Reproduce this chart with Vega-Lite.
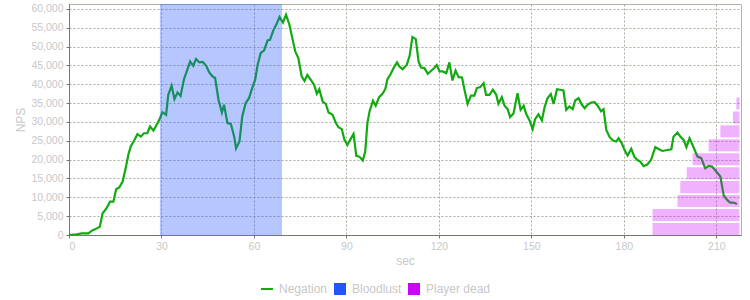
{
  "$schema": "https://vega.github.io/schema/vega-lite/v6.json",
  "width": 672,
  "height": 231,
  "autosize": {"type": "none"},
  "padding": {"left": 69, "top": 4, "right": 9, "bottom": 65},
  "config": {
    "font": "Liberation Sans",
    "view": {"stroke": "#b4b4a4", "strokeWidth": 1},
    "axis": {
      "domainColor": "#77776a",
      "tickColor": "#77776a",
      "tickSize": 3,
      "gridColor": "#ababa0",
      "gridDash": [2, 2],
      "gridOpacity": 1,
      "labelColor": "#c8c8c8",
      "labelFontSize": 10.5,
      "labelFont": "Liberation Sans",
      "titleColor": "#c8c8c8",
      "titleFontSize": 12,
      "titleFontWeight": "normal",
      "titleFont": "Liberation Sans"
    },
    "legend": {
      "labelColor": "#c8c8c8",
      "labelFontSize": 12,
      "labelFont": "Liberation Sans"
    }
  },
  "datasets": {
    "neg": [
      {"t": 0, "v": 0}, {"t": 2.5, "v": 200}, {"t": 4.1, "v": 450}, {"t": 6.3, "v": 450},
      {"t": 7.4, "v": 1150}, {"t": 8.4, "v": 1500}, {"t": 10.0, "v": 2200}, {"t": 10.9, "v": 5750},
      {"t": 12.2, "v": 7100}, {"t": 13.3, "v": 8850}, {"t": 14.4, "v": 8850}, {"t": 15.3, "v": 12150},
      {"t": 16.3, "v": 12600}, {"t": 17.4, "v": 14200}, {"t": 18.5, "v": 18150}, {"t": 19.3, "v": 21500},
      {"t": 20.1, "v": 23650}, {"t": 21.1, "v": 25000}, {"t": 22.2, "v": 26750}, {"t": 23.3, "v": 26100},
      {"t": 24.3, "v": 27000}, {"t": 25.4, "v": 27000}, {"t": 26.3, "v": 28800}, {"t": 27.4, "v": 27700},
      {"t": 28.4, "v": 29200}, {"t": 29.3, "v": 30550}, {"t": 30.3, "v": 32600}, {"t": 31.5, "v": 31900},
      {"t": 32.2, "v": 37200}, {"t": 33.3, "v": 39600}, {"t": 34.2, "v": 36050}, {"t": 35.2, "v": 37800},
      {"t": 36.2, "v": 36900}, {"t": 37.3, "v": 41350}, {"t": 38.2, "v": 43400}, {"t": 39.3, "v": 46050},
      {"t": 40.3, "v": 44900}, {"t": 41.2, "v": 46700}, {"t": 42.3, "v": 45800}, {"t": 43.4, "v": 45950},
      {"t": 44.5, "v": 44900}, {"t": 45.5, "v": 43150}, {"t": 46.6, "v": 42050}, {"t": 47.4, "v": 41650},
      {"t": 48.5, "v": 35900}, {"t": 49.6, "v": 32500}, {"t": 50.3, "v": 34550}, {"t": 51.4, "v": 29700},
      {"t": 52.5, "v": 29500}, {"t": 53.6, "v": 26100}, {"t": 54.2, "v": 23000}, {"t": 55.3, "v": 24800},
      {"t": 56.2, "v": 31450}, {"t": 57.3, "v": 35000}, {"t": 58.4, "v": 36300}, {"t": 59.3, "v": 38700},
      {"t": 60.4, "v": 41200}, {"t": 61.2, "v": 45200}, {"t": 62.2, "v": 48300}, {"t": 63.3, "v": 49000},
      {"t": 64.4, "v": 51650}, {"t": 65.2, "v": 51800}, {"t": 66.3, "v": 54300}, {"t": 67.4, "v": 56100},
      {"t": 68.3, "v": 57850}, {"t": 69.4, "v": 56400}, {"t": 70.4, "v": 58450}, {"t": 71.5, "v": 55800},
      {"t": 72.6, "v": 51650}, {"t": 73.4, "v": 48700}, {"t": 74.4, "v": 46950}, {"t": 75.5, "v": 42050},
      {"t": 76.4, "v": 40900}, {"t": 77.3, "v": 42500}, {"t": 78.4, "v": 41200}, {"t": 79.5, "v": 39850},
      {"t": 80.4, "v": 37500}, {"t": 81.2, "v": 38700}, {"t": 82.3, "v": 35400}, {"t": 83.3, "v": 34800},
      {"t": 84.2, "v": 32500}, {"t": 85.5, "v": 31900}, {"t": 86.6, "v": 29700}, {"t": 87.4, "v": 28600},
      {"t": 88.5, "v": 28100}, {"t": 89.3, "v": 25400}, {"t": 90.3, "v": 23900}, {"t": 91.2, "v": 25250},
      {"t": 92.3, "v": 26850}, {"t": 93.2, "v": 21000}, {"t": 94.2, "v": 20800}, {"t": 95.3, "v": 19750},
      {"t": 96.1, "v": 22150}, {"t": 96.8, "v": 29700}, {"t": 97.5, "v": 32800}, {"t": 98.6, "v": 35600},
      {"t": 99.5, "v": 34300}, {"t": 100.6, "v": 36600}, {"t": 101.7, "v": 37450}, {"t": 102.6, "v": 38700},
      {"t": 103.3, "v": 41350}, {"t": 104.4, "v": 42800}, {"t": 105.3, "v": 44300}, {"t": 106.4, "v": 45800},
      {"t": 107.2, "v": 44700}, {"t": 108.2, "v": 44000}, {"t": 109.6, "v": 45200}, {"t": 110.5, "v": 47550},
      {"t": 111.4, "v": 52550}, {"t": 112.5, "v": 52000}, {"t": 113.4, "v": 46050}, {"t": 114.2, "v": 44450},
      {"t": 115.3, "v": 44300}, {"t": 116.4, "v": 42800}, {"t": 117.5, "v": 43600}, {"t": 118.5, "v": 44300},
      {"t": 119.3, "v": 45100}, {"t": 120.2, "v": 43400}, {"t": 121.3, "v": 43400}, {"t": 122.4, "v": 42950},
      {"t": 123.4, "v": 45800}, {"t": 124.4, "v": 41000}, {"t": 125.4, "v": 43650}, {"t": 126.4, "v": 41900},
      {"t": 127.5, "v": 41800}, {"t": 128.3, "v": 38550}, {"t": 129.3, "v": 34800}, {"t": 130.4, "v": 37000},
      {"t": 131.5, "v": 37000}, {"t": 132.3, "v": 39000}, {"t": 133.4, "v": 39250}, {"t": 134.5, "v": 40300},
      {"t": 135.3, "v": 37200}, {"t": 136.4, "v": 37200}, {"t": 137.5, "v": 38550}, {"t": 138.6, "v": 37200},
      {"t": 139.3, "v": 34800}, {"t": 140.4, "v": 36600}, {"t": 141.3, "v": 34300}, {"t": 142.3, "v": 33400},
      {"t": 143.1, "v": 31300}, {"t": 144.2, "v": 32250}, {"t": 145.5, "v": 37650}, {"t": 146.5, "v": 33200},
      {"t": 147.5, "v": 34300}, {"t": 148.3, "v": 32150}, {"t": 149.4, "v": 30400}, {"t": 150.4, "v": 28100},
      {"t": 151.2, "v": 30750}, {"t": 152.3, "v": 32050}, {"t": 153.4, "v": 30400}, {"t": 154.3, "v": 33950},
      {"t": 155.2, "v": 36300}, {"t": 156.3, "v": 37400}, {"t": 157.2, "v": 34750}, {"t": 158.3, "v": 38700},
      {"t": 159.4, "v": 38550}, {"t": 160.4, "v": 38350}, {"t": 161.3, "v": 33200}, {"t": 162.3, "v": 34100},
      {"t": 163.4, "v": 33400}, {"t": 164.2, "v": 35700}, {"t": 165.3, "v": 36300}, {"t": 166.4, "v": 34550},
      {"t": 167.3, "v": 33650}, {"t": 168.2, "v": 34550}, {"t": 169.4, "v": 35150}, {"t": 170.5, "v": 35250},
      {"t": 171.5, "v": 34300}, {"t": 172.6, "v": 32800}, {"t": 173.4, "v": 33400}, {"t": 174.3, "v": 27900},
      {"t": 175.4, "v": 25950}, {"t": 176.5, "v": 25050}, {"t": 177.5, "v": 24800}, {"t": 178.3, "v": 25700},
      {"t": 179.4, "v": 24200}, {"t": 180.2, "v": 22600}, {"t": 181.2, "v": 21100}, {"t": 182.4, "v": 22850},
      {"t": 183.4, "v": 20800}, {"t": 184.3, "v": 19950}, {"t": 185.3, "v": 19500}, {"t": 186.4, "v": 18250},
      {"t": 187.6, "v": 18700}, {"t": 188.8, "v": 19900}, {"t": 190.2, "v": 23300}, {"t": 191.4, "v": 22750},
      {"t": 192.5, "v": 22300}, {"t": 193.7, "v": 22500}, {"t": 195.4, "v": 22750}, {"t": 196.1, "v": 26100},
      {"t": 197.4, "v": 27200}, {"t": 198.3, "v": 26100}, {"t": 199.4, "v": 25250}, {"t": 200.3, "v": 23300},
      {"t": 201.3, "v": 25700}, {"t": 202.6, "v": 23300}, {"t": 203.9, "v": 20800}, {"t": 205.1, "v": 20400},
      {"t": 206.4, "v": 17700}, {"t": 207.5, "v": 18350}, {"t": 208.6, "v": 18150}, {"t": 209.7, "v": 17100},
      {"t": 211.3, "v": 15500}, {"t": 212.4, "v": 10450}, {"t": 213.5, "v": 9300}, {"t": 214.5, "v": 8600},
      {"t": 215.6, "v": 8600}, {"t": 216.7, "v": 8250}
    ],
    "bl": [{"start": 29.5, "end": 69.1}],
    "dead": [
      {"start": 189.3, "end": 217.5, "lo": 0, "hi": 3200},
      {"start": 189.3, "end": 217.5, "lo": 3700, "hi": 6900},
      {"start": 197.4, "end": 217.5, "lo": 7400, "hi": 10600},
      {"start": 198.3, "end": 217.5, "lo": 11100, "hi": 14300},
      {"start": 200.4, "end": 217.5, "lo": 14800, "hi": 18000},
      {"start": 202.3, "end": 217.5, "lo": 18500, "hi": 21700},
      {"start": 207.5, "end": 217.5, "lo": 22200, "hi": 25400},
      {"start": 211.3, "end": 217.5, "lo": 25900, "hi": 29100},
      {"start": 215.4, "end": 217.5, "lo": 29600, "hi": 32800},
      {"start": 216.5, "end": 217.5, "lo": 33300, "hi": 36500}
    ]
  },
  "layer": [
    {
      "data": {"name": "neg"},
      "mark": {"type": "line", "strokeWidth": 2.2},
      "encoding": {
        "x": {
          "field": "t", "type": "quantitative",
          "scale": {"domain": [0, 218], "nice": false, "zero": false},
          "axis": {"title": "sec", "values": [0, 30, 60, 90, 120, 150, 180, 210], "labelPadding": 3, "titlePadding": 4}
        },
        "y": {
          "field": "v", "type": "quantitative",
          "scale": {"domain": [0, 61300], "nice": false},
          "axis": {"title": "NPS", "values": [0, 5000, 10000, 15000, 20000, 25000, 30000, 35000, 40000, 45000, 50000, 55000, 60000], "format": ",d", "labelPadding": 3, "titlePadding": 3, "labelOverlap": false}
        },
        "color": {
          "datum": "Negation", "type": "nominal",
          "scale": {"domain": ["Negation", "Bloodlust", "Player dead"], "range": ["#11aa11", "#2255ff", "#cc00ff"]},
          "legend": {
            "title": null,
            "orient": "none",
            "direction": "horizontal",
            "legendX": 192,
            "legendY": 279,
            "symbolSize": 144,
            "labelOffset": 6,
            "columnPadding": 6,
            "symbolOpacity": 1,
            "encode": {
              "symbols": {
                "update": {
                  "shape": {"signal": "datum.value === 'Negation' ? 'stroke' : 'square'"},
                  "strokeWidth": {"signal": "datum.value === 'Negation' ? 2 : 0"},
                  "fill": {"scale": "color", "field": "value"},
                  "stroke": {"scale": "color", "field": "value"},
                  "opacity": {"value": 1},
                  "fillOpacity": {"value": 1},
                  "strokeOpacity": {"value": 1}
                }
              }
            }
          }
        }
      }
    },
    {
      "data": {"name": "bl"},
      "mark": {"type": "rect", "opacity": 0.33},
      "encoding": {
        "x": {"field": "start", "type": "quantitative"},
        "x2": {"field": "end"},
        "color": {"datum": "Bloodlust", "type": "nominal"}
      }
    },
    {
      "data": {"name": "dead"},
      "mark": {"type": "rect", "opacity": 0.3},
      "encoding": {
        "x": {"field": "start", "type": "quantitative"},
        "x2": {"field": "end"},
        "y": {
          "field": "lo", "type": "quantitative",
          "axis": {"title": "NPS", "values": [0, 5000, 10000, 15000, 20000, 25000, 30000, 35000, 40000, 45000, 50000, 55000, 60000], "format": ",d", "labelPadding": 3, "titlePadding": 3, "labelOverlap": false}
        },
        "y2": {"field": "hi"},
        "color": {"datum": "Player dead", "type": "nominal"}
      }
    }
  ]
}
